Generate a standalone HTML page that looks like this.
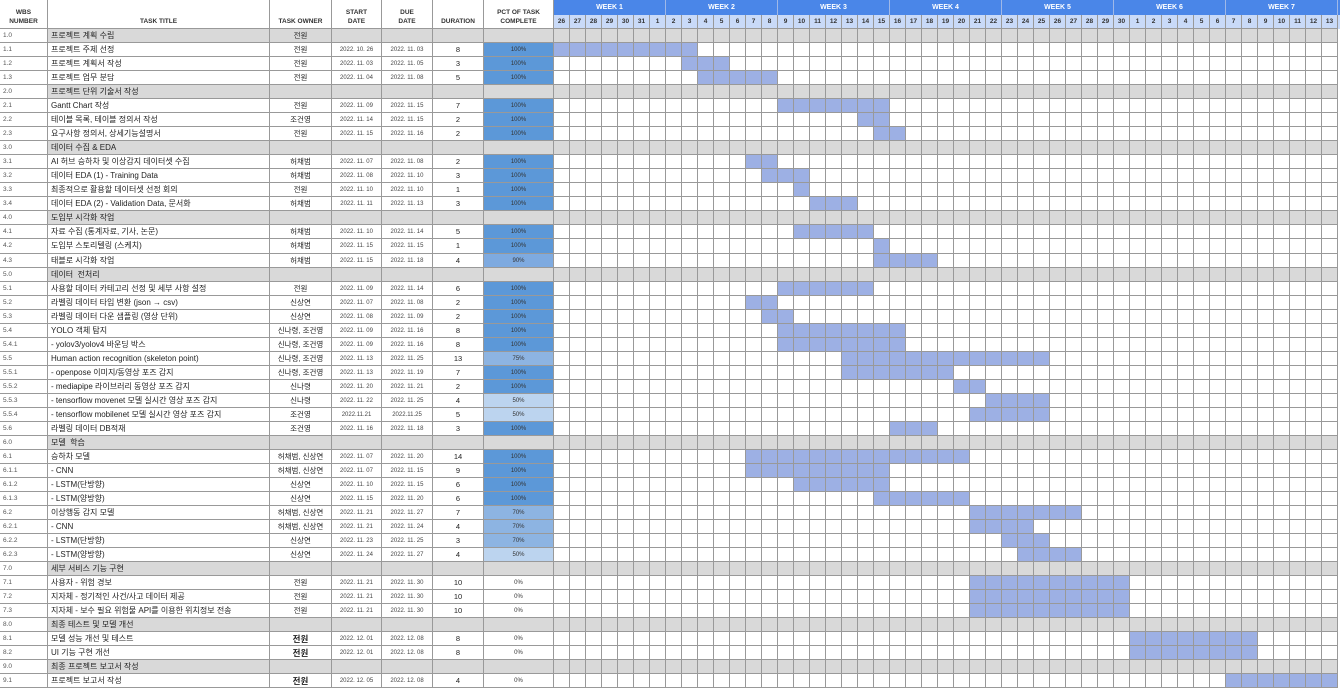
<!DOCTYPE html>
<html><head><meta charset="utf-8"><style>
*{margin:0;padding:0;box-sizing:border-box}
body{width:1340px;height:690px;background:#fff;overflow:hidden;font-family:"Liberation Sans","Noto Sans CJK KR",sans-serif;color:#222}
.h{display:flex;height:29px}
.h>div{border-right:1px solid #999;border-bottom:1px solid #999;font-size:6.5px;font-weight:bold;text-align:center;display:flex;align-items:flex-end;justify-content:center;padding-bottom:2px;line-height:9px;color:#333}
.gh{width:786px;display:block!important;padding:0!important;border:none!important}
.wk{display:flex;height:15px;background:#4a86e8}
.wk span{width:112px;border-right:1px solid #9fb8e8;color:#fff;font-size:7px;font-weight:bold;text-align:center;line-height:15px}
.dy{display:flex;height:14px;background:#c9daf8}
.dy span{width:16px;border-right:1px solid #999;border-bottom:1px solid #999;font-size:6.5px;font-weight:bold;text-align:center;line-height:13px;color:#333}
.r{display:flex;height:14.04px}
.r>*{border-right:1px solid #999;border-bottom:1px solid #999;font-style:normal;text-decoration:none;font-weight:normal;white-space:nowrap;overflow:hidden;quotes:none;display:flex;align-items:center;justify-content:center}
.r>i{width:48px;font-size:6.5px;padding-left:3px;color:#555;justify-content:flex-start}
.r>b{width:222px;font-size:8px;padding-left:3px;justify-content:flex-start}
.r>u{width:62px;font-size:7.5px}
.r>em{width:50px;font-size:6px;color:#444;padding-top:1px}
.r>em+em{width:51px}
.r>s{width:51px;font-size:7.5px}
.r>q{width:70px;font-size:6px;color:#333;padding-top:1px}
.r>g{display:block;width:784px;position:relative}
.r>g::after{content:"";position:absolute;inset:0;background:repeating-linear-gradient(90deg,transparent 0 15px,#999 15px 16px)}
.r>g a{position:absolute;top:0;bottom:0;background:#9db0e4}
.s>*{background:#d9d9d9}.s>i{background:#fff}
.p1{background:#5c98d8}.p9{background:#7eaae0}.p7{background:#8db4e2}.p5{background:#bcd4ef}
.big{font-weight:bold!important;font-size:8.5px!important}
</style></head><body>
<div class="h"><div style="width:48px">WBS<br>NUMBER</div><div style="width:222px">TASK TITLE</div><div style="width:62px">TASK OWNER</div><div style="width:50px">START<br>DATE</div><div style="width:51px">DUE<br>DATE</div><div style="width:51px">DURATION</div><div style="width:70px">PCT OF TASK<br>COMPLETE</div>
<div class="gh"><div class="wk"><span>WEEK 1</span><span>WEEK 2</span><span>WEEK 3</span><span>WEEK 4</span><span>WEEK 5</span><span>WEEK 6</span><span>WEEK 7</span></div>
<div class="dy"><span>26</span><span>27</span><span>28</span><span>29</span><span>30</span><span>31</span><span>1</span><span>2</span><span>3</span><span>4</span><span>5</span><span>6</span><span>7</span><span>8</span><span>9</span><span>10</span><span>11</span><span>12</span><span>13</span><span>14</span><span>15</span><span>16</span><span>17</span><span>18</span><span>19</span><span>20</span><span>21</span><span>22</span><span>23</span><span>24</span><span>25</span><span>26</span><span>27</span><span>28</span><span>29</span><span>30</span><span>1</span><span>2</span><span>3</span><span>4</span><span>5</span><span>6</span><span>7</span><span>8</span><span>9</span><span>10</span><span>11</span><span>12</span><span>13</span></div></div></div>

<div class="r s"><i>1.0</i><b>프로젝트 계획 수립</b><u>전원</u><em></em><em></em><s></s><q></q><g></g></div>
<div class="r"><i>1.1</i><b>프로젝트 주제 선정</b><u>전원</u><em>2022. 10. 26</em><em>2022. 11. 03</em><s>8</s><q class="p1">100%</q><g><a style="left:0;width:144px"></a></g></div>
<div class="r"><i>1.2</i><b>프로젝트 계획서 작성</b><u>전원</u><em>2022. 11. 03</em><em>2022. 11. 05</em><s>3</s><q class="p1">100%</q><g><a style="left:128px;width:48px"></a></g></div>
<div class="r"><i>1.3</i><b>프로젝트 업무 분담</b><u>전원</u><em>2022. 11. 04</em><em>2022. 11. 08</em><s>5</s><q class="p1">100%</q><g><a style="left:144px;width:80px"></a></g></div>
<div class="r s"><i>2.0</i><b>프로젝트 단위 기술서 작성</b><u></u><em></em><em></em><s></s><q></q><g></g></div>
<div class="r"><i>2.1</i><b>Gantt Chart 작성</b><u>전원</u><em>2022. 11. 09</em><em>2022. 11. 15</em><s>7</s><q class="p1">100%</q><g><a style="left:224px;width:112px"></a></g></div>
<div class="r"><i>2.2</i><b>테이블 목록, 테이블 정의서 작성</b><u>조건영</u><em>2022. 11. 14</em><em>2022. 11. 15</em><s>2</s><q class="p1">100%</q><g><a style="left:304px;width:32px"></a></g></div>
<div class="r"><i>2.3</i><b>요구사항 정의서, 상세기능설명서</b><u>전원</u><em>2022. 11. 15</em><em>2022. 11. 16</em><s>2</s><q class="p1">100%</q><g><a style="left:320px;width:32px"></a></g></div>
<div class="r s"><i>3.0</i><b>데이터 수집 &amp; EDA</b><u></u><em></em><em></em><s></s><q></q><g></g></div>
<div class="r"><i>3.1</i><b>AI 허브 승하차 및 이상감지 데이터셋 수집</b><u>허채범</u><em>2022. 11. 07</em><em>2022. 11. 08</em><s>2</s><q class="p1">100%</q><g><a style="left:192px;width:32px"></a></g></div>
<div class="r"><i>3.2</i><b>데이터 EDA (1) - Training Data</b><u>허채범</u><em>2022. 11. 08</em><em>2022. 11. 10</em><s>3</s><q class="p1">100%</q><g><a style="left:208px;width:48px"></a></g></div>
<div class="r"><i>3.3</i><b>최종적으로 활용할 데이터셋 선정 회의</b><u>전원</u><em>2022. 11. 10</em><em>2022. 11. 10</em><s>1</s><q class="p1">100%</q><g><a style="left:240px;width:16px"></a></g></div>
<div class="r"><i>3.4</i><b>데이터 EDA (2) - Validation Data, 문서화</b><u>허채범</u><em>2022. 11. 11</em><em>2022. 11. 13</em><s>3</s><q class="p1">100%</q><g><a style="left:256px;width:48px"></a></g></div>
<div class="r s"><i>4.0</i><b>도입부 시각화 작업</b><u></u><em></em><em></em><s></s><q></q><g></g></div>
<div class="r"><i>4.1</i><b>자료 수집 (통계자료, 기사, 논문)</b><u>허채범</u><em>2022. 11. 10</em><em>2022. 11. 14</em><s>5</s><q class="p1">100%</q><g><a style="left:240px;width:80px"></a></g></div>
<div class="r"><i>4.2</i><b>도입부 스토리텔링 (스케치)</b><u>허채범</u><em>2022. 11. 15</em><em>2022. 11. 15</em><s>1</s><q class="p1">100%</q><g><a style="left:320px;width:16px"></a></g></div>
<div class="r"><i>4.3</i><b>태블로 시각화 작업</b><u>허채범</u><em>2022. 11. 15</em><em>2022. 11. 18</em><s>4</s><q class="p9">90%</q><g><a style="left:320px;width:64px"></a></g></div>
<div class="r s"><i>5.0</i><b>데이터&nbsp; 전처리</b><u></u><em></em><em></em><s></s><q></q><g></g></div>
<div class="r"><i>5.1</i><b>사용할 데이터 카테고리 선정 및 세부 사항 설정</b><u>전원</u><em>2022. 11. 09</em><em>2022. 11. 14</em><s>6</s><q class="p1">100%</q><g><a style="left:224px;width:96px"></a></g></div>
<div class="r"><i>5.2</i><b>라벨링 데이터 타입 변환 (json → csv)</b><u>신상연</u><em>2022. 11. 07</em><em>2022. 11. 08</em><s>2</s><q class="p1">100%</q><g><a style="left:192px;width:32px"></a></g></div>
<div class="r"><i>5.3</i><b>라벨링 데이터 다운 샘플링 (영상 단위)</b><u>신상연</u><em>2022. 11. 08</em><em>2022. 11. 09</em><s>2</s><q class="p1">100%</q><g><a style="left:208px;width:32px"></a></g></div>
<div class="r"><i>5.4</i><b>YOLO 객체 탐지</b><u>신나령, 조건영</u><em>2022. 11. 09</em><em>2022. 11. 16</em><s>8</s><q class="p1">100%</q><g><a style="left:224px;width:128px"></a></g></div>
<div class="r"><i>5.4.1</i><b>- yolov3/yolov4 바운딩 박스</b><u>신나령, 조건영</u><em>2022. 11. 09</em><em>2022. 11. 16</em><s>8</s><q class="p1">100%</q><g><a style="left:224px;width:128px"></a></g></div>
<div class="r"><i>5.5</i><b>Human action recognition (skeleton point)</b><u>신나령, 조건영</u><em>2022. 11. 13</em><em>2022. 11. 25</em><s>13</s><q class="p7">75%</q><g><a style="left:288px;width:208px"></a></g></div>
<div class="r"><i>5.5.1</i><b>- openpose 이미지/동영상 포즈 감지</b><u>신나령, 조건영</u><em>2022. 11. 13</em><em>2022. 11. 19</em><s>7</s><q class="p1">100%</q><g><a style="left:288px;width:112px"></a></g></div>
<div class="r"><i>5.5.2</i><b>- mediapipe 라이브러리 동영상 포즈 감지</b><u>신나령</u><em>2022. 11. 20</em><em>2022. 11. 21</em><s>2</s><q class="p1">100%</q><g><a style="left:400px;width:32px"></a></g></div>
<div class="r"><i>5.5.3</i><b>- tensorflow movenet 모델 실시간 영상 포즈 감지</b><u>신나령</u><em>2022. 11. 22</em><em>2022. 11. 25</em><s>4</s><q class="p5">50%</q><g><a style="left:432px;width:64px"></a></g></div>
<div class="r"><i>5.5.4</i><b>- tensorflow mobilenet 모델 실시간 영상 포즈 감지</b><u>조건영</u><em>2022.11.21</em><em>2022.11.25</em><s>5</s><q class="p5">50%</q><g><a style="left:416px;width:80px"></a></g></div>
<div class="r"><i>5.6</i><b>라벨링 데이터 DB적재</b><u>조건영</u><em>2022. 11. 16</em><em>2022. 11. 18</em><s>3</s><q class="p1">100%</q><g><a style="left:336px;width:48px"></a></g></div>
<div class="r s"><i>6.0</i><b>모델&nbsp; 학습</b><u></u><em></em><em></em><s></s><q></q><g></g></div>
<div class="r"><i>6.1</i><b>승하차 모델</b><u>허채범, 신상연</u><em>2022. 11. 07</em><em>2022. 11. 20</em><s>14</s><q class="p1">100%</q><g><a style="left:192px;width:224px"></a></g></div>
<div class="r"><i>6.1.1</i><b>- CNN</b><u>허채범, 신상연</u><em>2022. 11. 07</em><em>2022. 11. 15</em><s>9</s><q class="p1">100%</q><g><a style="left:192px;width:144px"></a></g></div>
<div class="r"><i>6.1.2</i><b>- LSTM(단방향)</b><u>신상연</u><em>2022. 11. 10</em><em>2022. 11. 15</em><s>6</s><q class="p1">100%</q><g><a style="left:240px;width:96px"></a></g></div>
<div class="r"><i>6.1.3</i><b>- LSTM(양방향)</b><u>신상연</u><em>2022. 11. 15</em><em>2022. 11. 20</em><s>6</s><q class="p1">100%</q><g><a style="left:320px;width:96px"></a></g></div>
<div class="r"><i>6.2</i><b>이상행동 감지 모델</b><u>허채범, 신상연</u><em>2022. 11. 21</em><em>2022. 11. 27</em><s>7</s><q class="p7">70%</q><g><a style="left:416px;width:112px"></a></g></div>
<div class="r"><i>6.2.1</i><b>- CNN</b><u>허채범, 신상연</u><em>2022. 11. 21</em><em>2022. 11. 24</em><s>4</s><q class="p7">70%</q><g><a style="left:416px;width:64px"></a></g></div>
<div class="r"><i>6.2.2</i><b>- LSTM(단방향)</b><u>신상연</u><em>2022. 11. 23</em><em>2022. 11. 25</em><s>3</s><q class="p7">70%</q><g><a style="left:448px;width:48px"></a></g></div>
<div class="r"><i>6.2.3</i><b>- LSTM(양방향)</b><u>신상연</u><em>2022. 11. 24</em><em>2022. 11. 27</em><s>4</s><q class="p5">50%</q><g><a style="left:464px;width:64px"></a></g></div>
<div class="r s"><i>7.0</i><b>세부 서비스 기능 구현</b><u></u><em></em><em></em><s></s><q></q><g></g></div>
<div class="r"><i>7.1</i><b>사용자 - 위험 경보</b><u>전원</u><em>2022. 11. 21</em><em>2022. 11. 30</em><s>10</s><q>0%</q><g><a style="left:416px;width:160px"></a></g></div>
<div class="r"><i>7.2</i><b>지자체 - 정기적인 사건/사고 데이터 제공</b><u>전원</u><em>2022. 11. 21</em><em>2022. 11. 30</em><s>10</s><q>0%</q><g><a style="left:416px;width:160px"></a></g></div>
<div class="r"><i>7.3</i><b>지자체 - 보수 필요 위험물 API를 이용한 위치정보 전송</b><u>전원</u><em>2022. 11. 21</em><em>2022. 11. 30</em><s>10</s><q>0%</q><g><a style="left:416px;width:160px"></a></g></div>
<div class="r s"><i>8.0</i><b>최종 테스트 및 모델 개선</b><u></u><em></em><em></em><s></s><q></q><g></g></div>
<div class="r"><i>8.1</i><b>모델 성능 개선 및 테스트</b><u class="big">전원</u><em>2022. 12. 01</em><em>2022. 12. 08</em><s>8</s><q>0%</q><g><a style="left:576px;width:128px"></a></g></div>
<div class="r"><i>8.2</i><b>UI 기능 구현 개선</b><u class="big">전원</u><em>2022. 12. 01</em><em>2022. 12. 08</em><s>8</s><q>0%</q><g><a style="left:576px;width:128px"></a></g></div>
<div class="r s"><i>9.0</i><b>최종 프로젝트 보고서 작성</b><u></u><em></em><em></em><s></s><q></q><g></g></div>
<div class="r"><i>9.1</i><b>프로젝트 보고서 작성</b><u class="big">전원</u><em>2022. 12. 05</em><em>2022. 12. 08</em><s>4</s><q>0%</q><g><a style="left:672px;width:112px"></a></g></div>
</body></html>
